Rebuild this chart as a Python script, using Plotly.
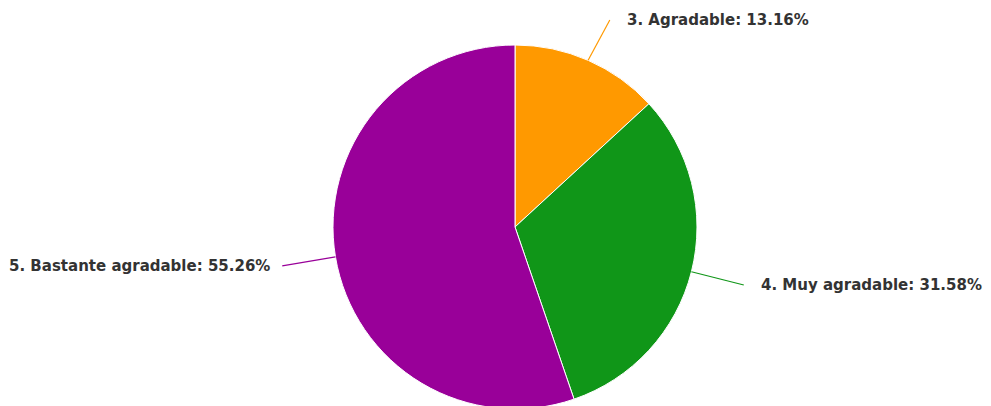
import numpy as np
import plotly.graph_objects as go

labels = ["3. Agradable", "4. Muy agradable", "5. Bastante agradable"]
values = [13.16, 31.58, 55.26]
colors = ["#FF9900", "#109618", "#990099"]

W, H = 991, 406
OFF = 8  # page body margin offset
cx, cy, r = 515.0 - OFF, 227.0 - OFF, 182.0

fig = go.Figure(go.Pie(
    labels=labels, values=values, sort=False, direction="clockwise", rotation=0,
    marker=dict(colors=colors, line=dict(color="white", width=1)),
    textinfo="none", showlegend=False, hoverinfo="label+percent",
    domain=dict(x=[(cx - r) / W, (cx + r) / W], y=[1 - (cy + r) / H, 1 - (cy - r) / H]),
))

def px(x, y):
    return x / W, 1 - y / H

total = sum(values)
cum = 0.0
R2 = r + 54
shapes, annots = [], []
for lab, v, col in zip(labels, values, colors):
    a = 2 * np.pi * (cum + v / 2) / total
    cum += v
    ex, ey = cx + r * np.sin(a), cy - r * np.cos(a)
    ax, ay = cx + R2 * np.sin(a), cy - R2 * np.cos(a)
    ay = max(ay, 20 - OFF)
    side = 1 if np.sin(a) >= 0 else -1
    x0, y0 = px(ex, ey)
    x1, y1 = px(ax, ay)
    shapes.append(dict(type="line", xref="paper", yref="paper", x0=x0, y0=y0, x1=x1, y1=y1,
                       line=dict(color=col, width=1.2)))
    gap = 15 if side > 0 else 10
    tx, ty = px(ax + side * gap, ay)
    annots.append(dict(x=tx, y=ty, xref="paper", yref="paper", showarrow=False,
                       text=f"{lab}: {v:.2f}%", xanchor="left" if side > 0 else "right",
                       yanchor="middle",
                       font=dict(family="DejaVu Sans", size=15, color="#333333", weight="bold")))

fig.update_layout(width=W, height=H, margin=dict(l=0, r=0, t=0, b=0),
                  paper_bgcolor="white", plot_bgcolor="white",
                  shapes=shapes, annotations=annots)
fig.write_html("out.html")
